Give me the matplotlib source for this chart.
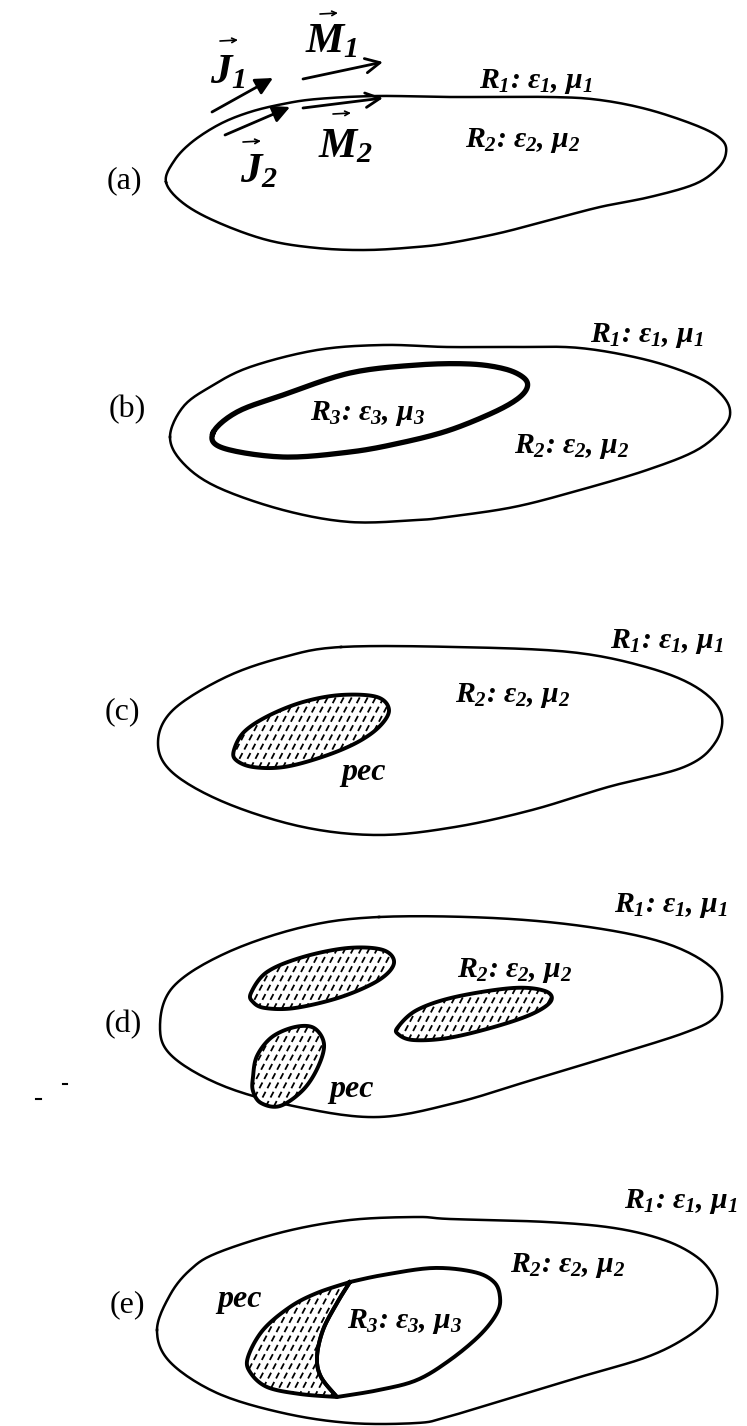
import numpy as np
import matplotlib.pyplot as plt
from matplotlib.patches import Polygon

plt.rcParams['mathtext.fontset'] = 'custom'
plt.rcParams['mathtext.it'] = 'Liberation Serif:italic:bold'
plt.rcParams['mathtext.rm'] = 'Liberation Serif:italic:bold'
plt.rcParams['mathtext.bf'] = 'Liberation Serif:italic:bold'

# outlines, pixel coords of the page (y downwards)
a_out_x = [166, 174, 192, 220, 250, 283, 317, 377, 450, 550, 600, 650, 700, 722, 726, 718, 695, 650, 600, 550, 500, 450, 417, 367, 317, 267, 217, 183]
a_out_y = [182, 161, 142, 124, 112, 104, 99, 96, 97, 97, 100, 110, 127, 140, 153, 168, 184, 197, 207, 220, 233, 243, 247, 250, 248, 240, 222, 203]

b_out_x = [170, 183, 210, 250, 317, 383, 447, 514, 580, 647, 697, 720, 730, 724, 697, 647, 580, 514, 447, 417, 350, 283, 217, 183]
b_out_y = [437, 407, 387, 367, 350, 345, 347, 347, 348, 360, 377, 393, 410, 427, 450, 470, 490, 507, 517, 520, 522, 510, 487, 463]
b_in_x = [213, 237, 283, 350, 417, 470, 505, 524, 527, 516, 490, 447, 400, 350, 283, 223]
b_in_y = [433, 412, 395, 373, 365, 364, 369, 378, 388, 400, 414, 431, 443, 452, 457, 448]

c_out_x = [341, 455, 570, 646, 696, 721, 715, 684, 608, 532, 455, 379, 303, 226, 173, 158, 173, 226, 284]
c_out_y = [647, 647, 652, 667, 687, 713, 743, 767, 787, 810, 827, 835, 827, 803, 773, 743, 710, 677, 657]
c_pec_x = [234, 244, 268, 303, 341, 377, 389, 379, 356, 322, 284, 253, 236]
c_pec_y = [750, 732, 716, 702, 695, 697, 710, 727, 743, 757, 767, 767, 760]

d_out_x = [379, 493, 589, 665, 711, 722, 715, 684, 608, 532, 455, 379, 303, 226, 173, 160, 173, 226, 303]
d_out_y = [917, 918, 927, 943, 967, 993, 1017, 1033, 1057, 1080, 1103, 1117, 1108, 1087, 1057, 1027, 987, 953, 927]
d_pec1_x = [251, 267, 303, 348, 383, 394, 379, 341, 295, 265, 253]
d_pec1_y = [993, 972, 957, 948, 950, 963, 980, 997, 1008, 1008, 1002]
d_pec2_x = [398, 417, 455, 513, 545, 551, 532, 494, 448, 413, 398]
d_pec2_y = [1027, 1010, 997, 988, 991, 1001, 1014, 1027, 1038, 1040, 1034]
d_pec3_x = [253, 257, 272, 295, 314, 324, 318, 303, 280, 261, 253]
d_pec3_y = [1077, 1056, 1037, 1027, 1028, 1044, 1067, 1090, 1106, 1103, 1091]

e_out_x = [157, 170, 190, 217, 283, 350, 417, 450, 547, 614, 664, 697, 714, 717, 710, 687, 647, 580, 514, 447, 417, 350, 283, 217, 170]
e_out_y = [1330, 1295, 1270, 1253, 1232, 1220, 1217, 1219, 1222, 1228, 1240, 1257, 1277, 1297, 1317, 1337, 1357, 1377, 1397, 1417, 1423, 1423, 1413, 1393, 1362]
e_r3_x = [350, 383, 433, 474, 494, 500, 497, 480, 450, 417, 379, 337]
e_r3_y = [1282, 1275, 1268, 1272, 1282, 1297, 1313, 1335, 1360, 1380, 1390, 1397]
e_cut_x = [337, 321, 317, 323, 337, 350]
e_cut_y = [1397, 1377, 1357, 1330, 1303, 1282]
e_pec_x = [350, 317, 290, 263, 248, 250, 267, 300, 337]
e_pec_y = [1282, 1293, 1307, 1330, 1357, 1372, 1387, 1394, 1397]

# panel letters
panel_names = ['(a)', '(b)', '(c)', '(d)', '(e)']
panel_x = [107, 109, 105, 105, 110]
panel_y = [181, 410, 712, 1025, 1305]

# region labels: (text, left x, baseline y)
reg_text = [r'$R_1$: $ε_1$, $μ_1$', r'$R_2$: $ε_2$, $μ_2$',
            r'$R_1$: $ε_1$, $μ_1$', r'$R_3$: $ε_3$, $μ_3$', r'$R_2$: $ε_2$, $μ_2$',
            r'$R_1$: $ε_1$, $μ_1$', r'$R_2$: $ε_2$, $μ_2$', 'pec',
            r'$R_1$: $ε_1$, $μ_1$', r'$R_2$: $ε_2$, $μ_2$', 'pec',
            r'$R_1$: $ε_1$, $μ_1$', r'$R_2$: $ε_2$, $μ_2$', r'$R_3$: $ε_3$, $μ_3$', 'pec']
reg_x = [479, 465, 590, 310, 514, 610, 455, 341, 614, 457, 329, 624, 510, 347, 217]
reg_y = [88, 147, 342, 420, 453, 648, 702, 780, 912, 977, 1097, 1208, 1272, 1328, 1307]

# source arrows in (a): tail, tip
src_name = [r'$J_1$', r'$J_2$', r'$M_1$', r'$M_2$']
src_x = [210, 240, 305, 318]
src_y = [83, 182, 52, 157]
arr_x0 = [212, 225, 303, 303]
arr_y0 = [112, 135, 79, 108]
arr_x1 = [273, 290, 383, 383]
arr_y1 = [78, 107, 62, 98]
vec_x = [220, 243, 320, 333]
vec_y = [40, 141, 13, 113]


def spline(xs, ys, closed=True, n=14):
    p = np.column_stack([xs, ys]).astype(float)
    if closed:
        p = np.vstack([p[-1], p, p[0], p[1]])
    else:
        p = np.vstack([p[0], p, p[-1]])
    t = np.linspace(0, 1, n, endpoint=False)[:, None]
    out = []
    for i in range(1, len(p) - 2):
        p0, p1, p2, p3 = p[i - 1], p[i], p[i + 1], p[i + 2]
        out.append(0.5 * (2 * p1 + (-p0 + p2) * t + (2 * p0 - 5 * p1 + 4 * p2 - p3) * t ** 2
                          + (-p0 + 3 * p1 - 3 * p2 + p3) * t ** 3))
    out.append(p[-2][None] if not closed else p[1][None])
    res = np.vstack(out)
    return res[:, 0], res[:, 1]


def outline(ax, xs, ys, lw):
    sx, sy = spline(xs, ys)
    ax.plot(sx, sy, color='black', lw=lw, solid_joinstyle='round')


def hatched(ax, xs, ys, lw=2.8, closed=True):
    if closed:
        sx, sy = spline(xs, ys)
    else:
        sx, sy = xs, ys
    patch = Polygon(np.column_stack([sx, sy]), closed=True, facecolor='white',
                    edgecolor='black', lw=lw, joinstyle='round', zorder=2)
    ax.add_patch(patch)
    x0, x1, y0, y1 = min(sx), max(sx), min(sy), max(sy)
    k = 1.9
    for c in np.arange(x0 - (y1 - y0) / k - 8, x1 + 8, 8.0):
        ln, = ax.plot([c, c + (y1 - y0) / k], [y1, y0], color='black', lw=1.3,
                      linestyle=(0, (3.6, 2.2)), zorder=2)
        ln.set_clip_path(patch)
    return patch


fig = plt.figure(figsize=(7.47, 14.26), dpi=100)
ax = fig.add_axes([0, 0, 1, 1])
ax.set_xlim(0, 747)
ax.set_ylim(1426, 0)
ax.axis('off')

# outer boundaries
for xs, ys in [(a_out_x, a_out_y), (b_out_x, b_out_y), (c_out_x, c_out_y),
               (d_out_x, d_out_y), (e_out_x, e_out_y)]:
    outline(ax, xs, ys, 1.8)

# (b) dielectric region
outline(ax, b_in_x, b_in_y, 3.8)

# pec bodies
hatched(ax, c_pec_x, c_pec_y)
hatched(ax, d_pec1_x, d_pec1_y)
hatched(ax, d_pec2_x, d_pec2_y)
hatched(ax, d_pec3_x, d_pec3_y)

# (e) pec part + dielectric part
px, py = spline(e_pec_x, e_pec_y, closed=False)
cx, cy = spline(e_cut_x, e_cut_y, closed=False)
hatched(ax, np.r_[px, cx[1:]], np.r_[py, cy[1:]], closed=False)
rx, ry = spline(e_r3_x, e_r3_y, closed=False)
ax.plot(np.r_[rx, cx[1:]], np.r_[ry, cy[1:]], color='black', lw=2.8,
        solid_joinstyle='round', zorder=3)

# panel letters
for name, x, y in zip(panel_names, panel_x, panel_y):
    ax.text(x, y, name, family='Liberation Serif', fontsize=23, ha='left', va='center')

# region labels
for s, x, y in zip(reg_text, reg_x, reg_y):
    fs = 23 if s == 'pec' else 21.5
    ax.text(x, y, s, family='Liberation Serif', fontsize=fs, fontweight='bold',
            fontstyle='italic', ha='left', va='baseline')

# sources on the interface
for i in range(4):
    style = '-|>' if i < 2 else '->'
    ax.annotate('', xy=(arr_x1[i], arr_y1[i]), xytext=(arr_x0[i], arr_y0[i]),
                arrowprops=dict(arrowstyle=style, color='black', lw=2.0,
                                mutation_scale=26, shrinkA=0, shrinkB=0), zorder=4)
    ax.text(src_x[i], src_y[i], src_name[i], fontsize=31, ha='left', va='baseline')
    ax.annotate('', xy=(vec_x[i] + 18, vec_y[i]), xytext=(vec_x[i], vec_y[i] + 1),
                arrowprops=dict(arrowstyle='->', color='black', lw=1.2,
                                mutation_scale=8, shrinkA=0, shrinkB=0))

# specks in the scan
ax.plot([36, 41], [1099, 1099], color='black', lw=1.5)
ax.plot([63, 67], [1084, 1084], color='black', lw=1.5)

fig.savefig('out.png', dpi=100)
